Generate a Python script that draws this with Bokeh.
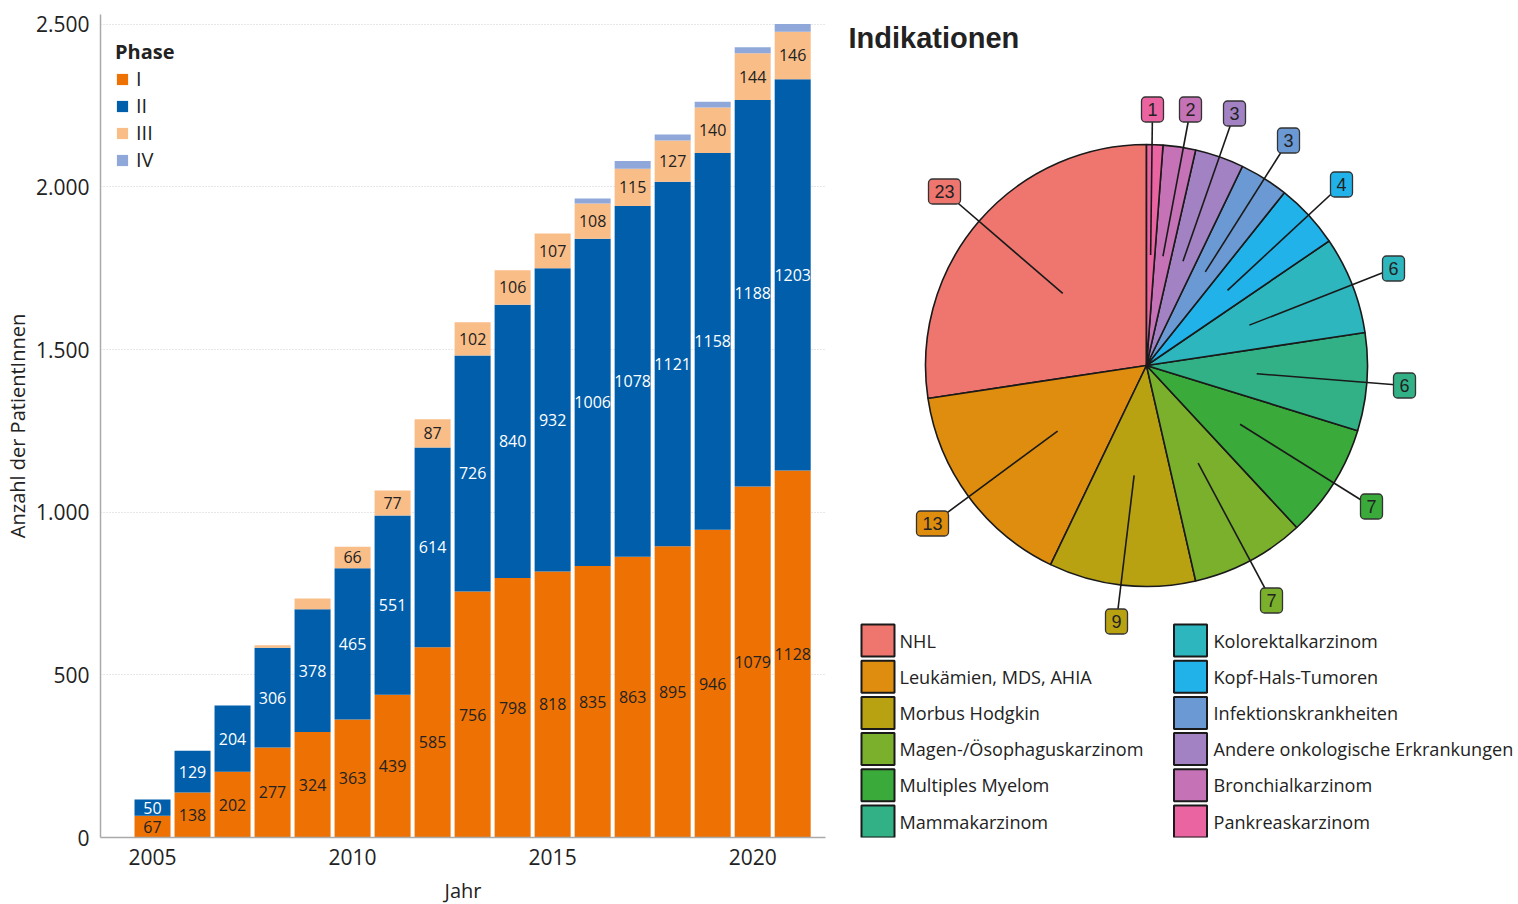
import math

from bokeh.core.properties import value
from bokeh.embed import file_html
from bokeh.layouts import row
from bokeh.models import ColumnDataSource, FixedTicker, Label, Legend, LegendItem, Range1d
from bokeh.plotting import figure
from bokeh.resources import INLINE

# ---------------------------------------------------------------- data
years = list(range(2005, 2022))
phase_1 = [67, 138, 202, 277, 324, 363, 439, 585, 756, 798, 818, 835, 863, 895, 946, 1079, 1128]
phase_2 = [50, 129, 204, 306, 378, 465, 551, 614, 726, 840, 932, 1006, 1078, 1121, 1158, 1188, 1203]
phase_3 = [0, 0, 0, 8, 33, 66, 77, 87, 102, 106, 107, 108, 115, 127, 140, 144, 146]
phase_4 = [0, 0, 0, 0, 0, 0, 0, 0, 0, 0, 0, 15, 24, 18, 18, 18, 24]
phase_names = ["I", "II", "III", "IV"]

y_ticks = [0, 500, 1000, 1500, 2000, 2500]
y_tick_labels = ["0", "500", "1.000", "1.500", "2.000", "2.500"]
x_ticks = [2005, 2010, 2015, 2020]

indications = [
    "NHL",
    "Leukämien, MDS, AHIA",
    "Morbus Hodgkin",
    "Magen-/Ösophaguskarzinom",
    "Multiples Myelom",
    "Mammakarzinom",
    "Kolorektalkarzinom",
    "Kopf-Hals-Tumoren",
    "Infektionskrankheiten",
    "Andere onkologische Erkrankungen",
    "Bronchialkarzinom",
    "Pankreaskarzinom",
]
indication_counts = [23, 13, 9, 7, 7, 6, 6, 4, 3, 3, 2, 1]

# ---------------------------------------------------------------- styles
FONT = "Open Sans"
TEXT_DARK = "#222222"
phase_colors = ["#EE7203", "#005EAA", "#F9BD88", "#8FA8D9"]
phase_label_colors = [TEXT_DARK, "#ffffff", TEXT_DARK]
slice_colors = [
    "#EE766F", "#DF8D0E", "#B8A212", "#7BB02D", "#3AAA3A", "#33B186",
    "#2DB6BE", "#20B2E8", "#6B99D3", "#A282C2", "#C573B6", "#EA64A2",
]

FRAME_TOP, FRAME_H = 14, 823          # shared plot-frame band of both panels
PAGE_H = 904

# ---------------------------------------------------------------- stacked bars
src = ColumnDataSource(dict(year=years, I=phase_1, II=phase_2, III=phase_3, IV=phase_4))

bars = figure(
    frame_width=725, frame_height=FRAME_H,
    x_range=Range1d(2003.7, 2021.82), y_range=Range1d(0, 2530),
    min_border_left=100, min_border_right=10, min_border_top=FRAME_TOP, min_border_bottom=60,
    output_backend="svg", toolbar_location=None, outline_line_color=None,
)
renderers = bars.vbar_stack(phase_names, x="year", width=0.9, source=src,
                            color=phase_colors, line_color=None)

# segment labels, centred in each segment
series = [phase_1, phase_2, phase_3]
bottom = [0] * len(years)
for k, vals in enumerate(series):
    lx, ly, lt = [], [], []
    for i, v in enumerate(vals):
        if v >= 50:
            lx.append(years[i])
            ly.append(bottom[i] + v / 2)
            lt.append(str(v))
    bars.text(x=lx, y=ly, text=lt, text_align="center", text_baseline="middle",
              text_font=value(FONT), text_font_size="16px", text_color=phase_label_colors[k])
    bottom = [b + v for b, v in zip(bottom, vals)]

bars.xgrid.grid_line_color = None
bars.ygrid.ticker = FixedTicker(ticks=y_ticks)
bars.ygrid.grid_line_color = "#cfcfcf"
bars.ygrid.grid_line_dash = "1 2"
bars.ygrid.level = "underlay"

bars.yaxis.ticker = FixedTicker(ticks=y_ticks)
bars.yaxis.major_label_overrides = {t: s for t, s in zip(y_ticks, y_tick_labels)}
bars.xaxis.ticker = FixedTicker(ticks=x_ticks)
bars.yaxis.axis_label = "Anzahl der PatientInnen"
bars.xaxis.axis_label = "Jahr"
for ax in (bars.xaxis[0], bars.yaxis[0]):
    ax.axis_line_color = "#aaaaaa"
    ax.axis_line_width = 1.5
    ax.major_tick_line_color = None
    ax.minor_tick_line_color = None
    ax.major_tick_out = 0
    ax.major_tick_in = 0
    ax.minor_tick_out = 0
    ax.minor_tick_in = 0
    ax.major_label_text_font = FONT
    ax.major_label_text_font_size = "21px"
    ax.major_label_text_color = TEXT_DARK
    ax.axis_label_text_font = FONT
    ax.axis_label_text_font_size = "20px"
    ax.axis_label_text_font_style = "normal"
    ax.axis_label_text_color = TEXT_DARK
bars.yaxis.major_label_standoff = 11
bars.yaxis.axis_label_standoff = 2
bars.xaxis.major_label_standoff = 11
bars.xaxis.axis_label_standoff = 9

legend = Legend(
    items=[LegendItem(label=n, renderers=[r]) for n, r in zip(phase_names, renderers)],
    title="Phase", location=(15, 664),
    title_text_font=FONT, title_text_font_size="20px", title_text_font_style="bold",
    title_text_color=TEXT_DARK, title_standoff=0,
    label_text_font=FONT, label_text_font_size="20px", label_text_color=TEXT_DARK,
    glyph_width=14, glyph_height=14, label_height=20, label_standoff=7, spacing=0,
    padding=0, margin=0, border_line_color=None, background_fill_alpha=0,
)
bars.add_layout(legend)

# ---------------------------------------------------------------- pie
# data units of this panel are page pixels (x to the right, y measured up from the page bottom)
PX0, PW = 835, 683
pie = figure(
    frame_width=PW, frame_height=FRAME_H,
    x_range=Range1d(PX0, PX0 + PW),
    y_range=Range1d(PAGE_H - FRAME_TOP - FRAME_H, PAGE_H - FRAME_TOP),
    min_border_left=0, min_border_right=0, min_border_top=FRAME_TOP, min_border_bottom=60,
    output_backend="svg", toolbar_location=None, outline_line_color=None,
)
pie.axis.visible = False
pie.grid.visible = False

cx, cy, R = 1146, PAGE_H - 365, 221
total = sum(indication_counts)
starts, ends, mids = [], [], []
acc = 0.0
for c in indication_counts:
    a0 = math.pi / 2 + 2 * math.pi * acc / total
    acc += c
    a1 = math.pi / 2 + 2 * math.pi * acc / total
    starts.append(a0)
    ends.append(a1)
    mids.append((a0 + a1) / 2)

pie.wedge(x=cx, y=cy, radius=R, start_angle=starts, end_angle=ends,
          fill_color=slice_colors, line_color="#1a1a1a", line_width=1.6)

# label boxes (page-pixel positions, placed clear of each other)
label_xy = [(944, 191), (932, 523), (1116, 621), (1271, 600), (1371, 506), (1404, 385),
            (1393, 268), (1341, 184), (1288, 140), (1234, 113), (1190, 109), (1152, 109)]
lab_x = [p[0] for p in label_xy]
lab_y = [PAGE_H - p[1] for p in label_xy]
inner_x = [cx + 0.5 * R * math.cos(m) for m in mids]
inner_y = [cy + 0.5 * R * math.sin(m) for m in mids]
pie.segment(x0=inner_x, y0=inner_y, x1=lab_x, y1=lab_y, line_color="#1a1a1a", line_width=1.6)
pie.text(x=lab_x, y=lab_y, text=[str(c) for c in indication_counts],
         text_align="center", text_baseline="middle",
         text_font=value("Liberation Sans"), text_font_size="18px", text_color=TEXT_DARK,
         background_fill_color=slice_colors, border_line_color="#333333", border_line_width=1.3,
         padding=6, border_radius=4)

# two-column legend
rows_per_col = 6
key_x = [877.5, 1190]
txt_x = [899, 1213]
kx, ky, tx, ty = [], [], [], []
for i, name in enumerate(indications):
    col, r_ = divmod(i, rows_per_col)
    yy = PAGE_H - (640 + r_ * 36.2)
    kx.append(key_x[col]); ky.append(yy)
    tx.append(txt_x[col]); ty.append(yy)
pie.rect(x=kx, y=ky, width=33, height=32, fill_color=slice_colors,
         line_color="#1a1a1a", line_width=2)
pie.text(x=tx, y=ty, text=indications, text_align="left", text_baseline="middle",
         text_font=value(FONT), text_font_size="18.1px", text_color=TEXT_DARK)

pie.add_layout(Label(x=848, y=PAGE_H - 37, text="Indikationen", text_baseline="middle",
                     text_font="Liberation Sans", text_font_size="29px",
                     text_font_style="bold", text_color=TEXT_DARK))

layout = row(bars, pie, spacing=0)
open("out.html", "w").write(file_html(layout, INLINE))
